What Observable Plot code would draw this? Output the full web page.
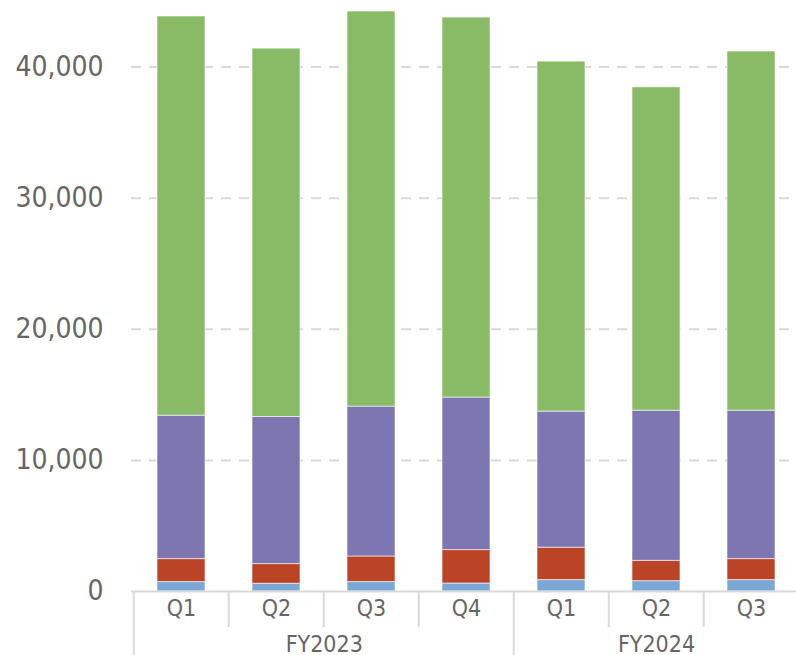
<!DOCTYPE html>
<html><head><meta charset="utf-8">
<script src="https://cdn.jsdelivr.net/npm/d3@7"></script>
<script src="https://cdn.jsdelivr.net/npm/@observablehq/plot@0.6"></script>
<style>html,body{margin:0;padding:0;background:#fff} svg{display:block}</style>
</head><body><div id="chart"></div>
<script>
const years = ["FY2023","FY2023","FY2023","FY2023","FY2024","FY2024","FY2024"];
const quarters = ["Q1","Q2","Q3","Q4","Q1","Q2","Q3"];
const seriesNames = ["Series 1","Series 2","Series 3","Series 4"];
const series1 = [720, 590, 720, 610, 870, 790, 870];
const series2 = [1750, 1500, 1950, 2550, 2470, 1550, 1600];
const series3 = [10940, 11220, 11430, 11630, 10380, 11450, 11320];
const series4 = [30440, 28090, 30130, 28980, 26690, 24660, 27390];
const yTicks = [0, 10000, 20000, 30000, 40000];
const colors = ["#7ba7d6", "#bb4427", "#7d76b1", "#89ba65"];

const keys = years.map((y, i) => y + " " + quarters[i]);
const allSeries = [series1, series2, series3, series4];
const data = [];
allSeries.forEach((vals, s) => vals.forEach((v, i) => data.push({key: keys[i], series: seriesNames[s], value: v})));

const W = 796, H = 655;
const x0 = 131, x1 = 799.5;
const step = (x1 - x0) / keys.length;
const axisY0 = 591;
const gray = "#666666", lineGray = "#d9d9d9";
const font = "'DejaVu Sans Condensed', 'DejaVu Sans', sans-serif";

const shortSeps = keys.filter((k, i) => i > 0 && years[i] === years[i - 1]);
const longSeps = keys.filter((k, i) => i === 0 || years[i] !== years[i - 1]);

const uniqueYears = [...new Set(years)];
const fyMarks = uniqueYears.map(y => {
  const ks = keys.filter((k, i) => years[i] === y);
  const n = ks.length;
  const anchorKey = n % 2 ? ks[(n - 1) / 2] : ks[n / 2 - 1];
  const dx = n % 2 ? 0 : step / 2;
  return Plot.text([anchorKey], {x: d => d, text: () => y, frameAnchor: "bottom", dy: -4, dx, fontSize: 23, fill: gray});
});

const chart = Plot.plot({
  width: W, height: H,
  marginLeft: x0, marginRight: 0, marginTop: 0, marginBottom: 0,
  style: {fontFamily: font, background: "#fff", color: gray},
  x: {type: "band", domain: keys, range: [x0, x1], paddingInner: 0.5, paddingOuter: 0.25, axis: null},
  y: {domain: [0, 40000], range: [axisY0, 66.5], axis: null},
  color: {domain: seriesNames, range: colors},
  marks: [
    Plot.gridY(yTicks.filter(d => d > 0), {stroke: lineGray, strokeOpacity: 1, strokeWidth: 2, strokeDasharray: "10,8"}),
    Plot.barY(data, {x: "key", y: "value", fill: "series", order: seriesNames, stroke: "#fff", strokeWidth: 1, strokeOpacity: 0.6}),
    Plot.ruleY([0], {stroke: lineGray, strokeWidth: 2}),
    Plot.axisY(yTicks, {anchor: "left", tickSize: 0, tickPadding: 28, fontSize: 28, tickFormat: d3.format(","), label: null, fill: gray}),
    Plot.ruleX(shortSeps, {x: d => d, dx: -step / 2, stroke: lineGray, strokeWidth: 2, insetTop: axisY0, insetBottom: 28}),
    Plot.ruleX(longSeps, {x: d => d, dx: -step / 2, stroke: lineGray, strokeWidth: 2, insetTop: axisY0, insetBottom: 0}),
    Plot.text(keys, {x: d => d, text: (d, i) => quarters[i], frameAnchor: "bottom", dy: -40, fontSize: 23, fill: gray}),
    ...fyMarks
  ]
});
document.getElementById("chart").appendChild(chart);
</script>
</body></html>
